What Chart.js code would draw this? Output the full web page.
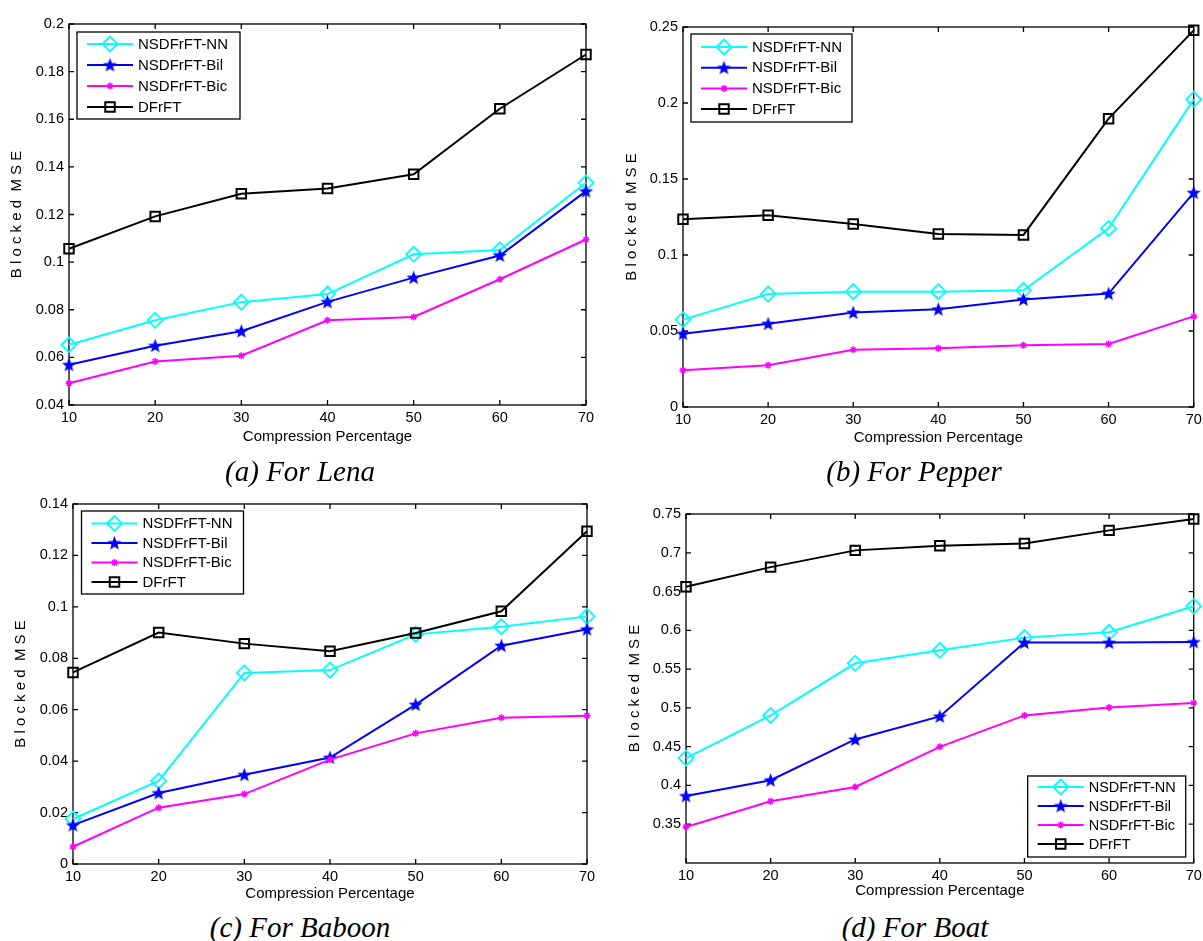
<!DOCTYPE html>
<html>
<head>
<meta charset="utf-8">
<script src="https://cdn.jsdelivr.net/npm/chart.js@4.4.1/dist/chart.umd.min.js"></script>
<style>
  html, body { margin: 0; padding: 0; background: #fff; }
  body { width: 1203px; height: 941px; position: relative; overflow: hidden; }
  .plot { position: absolute; }
  .caption {
    position: absolute; width: 400px; text-align: center; color: #000;
    font: italic 29px 'Liberation Serif', 'Times New Roman', serif; line-height: 1; white-space: nowrap;
  }
</style>
</head>
<body>
<div class="plot" id="boxLena"><canvas id="lena"></canvas></div>
<div class="plot" id="boxPepper"><canvas id="pepper"></canvas></div>
<div class="plot" id="boxBaboon"><canvas id="baboon"></canvas></div>
<div class="plot" id="boxBoat"><canvas id="boat"></canvas></div>

<div class="caption" style="left:100px;top:457px">(a) For Lena</div>
<div class="caption" style="left:714px;top:457px">(b) For Pepper</div>
<div class="caption" style="left:100px;top:913px">(c) For Baboon</div>
<div class="caption" style="left:715px;top:913px">(d) For Boat</div>

<script>
// x categories (compression %) and series names
const compression = [10, 20, 30, 40, 50, 60, 70];
const seriesNames = ['NSDFrFT-NN', 'NSDFrFT-Bil', 'NSDFrFT-Bic', 'DFrFT'];

// (a) Lena
const lenaNN    = [0.0653, 0.0756, 0.0832, 0.0866, 0.1033, 0.1051, 0.1333];
const lenaBil   = [0.0569, 0.0649, 0.0710, 0.0833, 0.0935, 0.1028, 0.1298];
const lenaBic   = [0.0491, 0.0583, 0.0607, 0.0756, 0.0770, 0.0928, 0.1095];
const lenaDFrFT = [0.1056, 0.1192, 0.1287, 0.1309, 0.1369, 0.1644, 0.1872];
const lenaTicks = [0.04, 0.06, 0.08, 0.1, 0.12, 0.14, 0.16, 0.18, 0.2];

// (b) Pepper
const pepperNN    = [0.0575, 0.0743, 0.0759, 0.0759, 0.0768, 0.1175, 0.2024];
const pepperBil   = [0.0482, 0.0548, 0.0621, 0.0643, 0.0708, 0.0746, 0.1410];
const pepperBic   = [0.0241, 0.0274, 0.0377, 0.0386, 0.0406, 0.0414, 0.0596];
const pepperDFrFT = [0.1235, 0.1261, 0.1204, 0.1138, 0.1132, 0.1897, 0.2478];
const pepperTicks = [0, 0.05, 0.1, 0.15, 0.2, 0.25];

// (c) Baboon
const baboonNN    = [0.0175, 0.0323, 0.0743, 0.0754, 0.0893, 0.0923, 0.0963];
const baboonBil   = [0.0151, 0.0276, 0.0347, 0.0414, 0.0620, 0.0849, 0.0913];
const baboonBic   = [0.0067, 0.0219, 0.0272, 0.0406, 0.0508, 0.0569, 0.0577];
const baboonDFrFT = [0.0745, 0.0900, 0.0857, 0.0827, 0.0898, 0.0983, 0.1294];
const baboonTicks = [0, 0.02, 0.04, 0.06, 0.08, 0.1, 0.12, 0.14];

// (d) Boat
const boatNN    = [0.4352, 0.4903, 0.5575, 0.5743, 0.5906, 0.5975, 0.6311];
const boatBil   = [0.3865, 0.4067, 0.4593, 0.4890, 0.5842, 0.5842, 0.5850];
const boatBic   = [0.3464, 0.3796, 0.3981, 0.4498, 0.4903, 0.5006, 0.5062];
const boatDFrFT = [0.6561, 0.6815, 0.7031, 0.7091, 0.7121, 0.7289, 0.7435];
const boatTicks = [0.35, 0.4, 0.45, 0.5, 0.55, 0.6, 0.65, 0.7, 0.75];

const FONT = "'Liberation Sans', Arial, Helvetica, sans-serif";
Chart.defaults.font.family = FONT;
Chart.defaults.color = '#000';

// filled pentagram marker (matlab 'p')
function pentagram(r, color) {
    const c = document.createElement('canvas');
    const s = Math.ceil(r * 2 + 2);
    c.width = c.height = s;
    const g = c.getContext('2d');
    g.translate(s / 2, s / 2 + 0.5);
    g.beginPath();
    for (let i = 0; i < 10; i++) {
        const rad = i % 2 ? r * 0.42 : r;
        const a = -Math.PI / 2 + i * Math.PI / 5;
        g.lineTo(rad * Math.cos(a), rad * Math.sin(a));
    }
    g.closePath();
    g.fillStyle = color;
    g.fill();
    return c;
}
const starImg = pentagram(7.5, '#0000ff');

// box + inward ticks on all four sides
const frame = {
    id: 'frame',
    beforeDatasetsDraw(chart) {
        const { ctx, chartArea: a, scales: { x, y } } = chart;
        ctx.save();
        ctx.strokeStyle = '#000';
        ctx.lineWidth = 1.3;
        ctx.strokeRect(a.left, a.top, a.width, a.height);
        ctx.beginPath();
        y.ticks.forEach((t) => {
            const py = y.getPixelForValue(t.value);
            ctx.moveTo(a.left, py); ctx.lineTo(a.left + 5, py);
            ctx.moveTo(a.right, py); ctx.lineTo(a.right - 5, py);
        });
        x.ticks.forEach((t, i) => {
            const px = x.getPixelForTick(i);
            ctx.moveTo(px, a.bottom); ctx.lineTo(px, a.bottom - 5);
            ctx.moveTo(px, a.top); ctx.lineTo(px, a.top + 5);
        });
        ctx.stroke();
        ctx.restore();
    },
};

// legend drawn inside the axes like matlab
const boxLegend = {
    id: 'boxLegend',
    afterDatasetsDraw(chart, args, o) {
        const { ctx, chartArea: a } = chart;
        const x = o.corner === 'br' ? a.right - o.dx - o.w : a.left + o.dx;
        const y = o.corner === 'br' ? a.bottom - o.dy - o.h : a.top + o.dy;
        ctx.save();
        ctx.fillStyle = '#fff';
        ctx.fillRect(x, y, o.w, o.h);
        ctx.strokeStyle = '#000';
        ctx.lineWidth = 1.3;
        ctx.strokeRect(x, y, o.w, o.h);
        chart.data.datasets.forEach((ds, i) => {
            const cy = y + o.first + i * o.gap;
            ctx.strokeStyle = ds.borderColor;
            ctx.lineWidth = ds.borderWidth;
            ctx.beginPath();
            ctx.moveTo(x + 10, cy);
            ctx.lineTo(x + 56, cy);
            ctx.stroke();
            ctx.fillStyle = ds.pointBackgroundColor;
            ctx.lineWidth = ds.pointBorderWidth;
            Chart.helpers.drawPoint(ctx, {
                pointStyle: ds.pointStyle, radius: ds.pointRadius, rotation: 0, borderWidth: ds.pointBorderWidth,
            }, x + 33, cy);
            ctx.fillStyle = '#000';
            ctx.font = o.fontSize + 'px ' + FONT;
            ctx.textAlign = 'left';
            ctx.textBaseline = 'middle';
            ctx.fillText(ds.label, x + 61, cy + 0.5);
        });
        ctx.restore();
    },
};

function makeSets(nn, bil, bic, dfrft) {
    return [
        { label: seriesNames[0], data: nn, borderColor: '#00ffff', borderWidth: 2, pointStyle: 'rectRot',
          pointRadius: 7.5, pointBorderWidth: 1.8, pointBackgroundColor: 'rgba(0,0,0,0)', order: 4 },
        { label: seriesNames[1], data: bil, borderColor: '#0000ff', borderWidth: 2, pointStyle: starImg,
          pointRadius: 7.5, pointBorderWidth: 0, pointBackgroundColor: '#0000ff', order: 3 },
        { label: seriesNames[2], data: bic, borderColor: '#ff00ff', borderWidth: 2, pointStyle: 'star',
          pointRadius: 3.5, pointBorderWidth: 1.5, pointBackgroundColor: 'rgba(0,0,0,0)', order: 2 },
        { label: seriesNames[3], data: dfrft, borderColor: '#000000', borderWidth: 2, pointStyle: 'rect',
          pointRadius: 6.7, pointBorderWidth: 2, pointBackgroundColor: 'rgba(0,0,0,0)', order: 1 },
    ].map((d) => Object.assign(d, { backgroundColor: 'rgba(0,0,0,0)', pointBorderColor: d.borderColor,
        tension: 0, fill: false, clip: false }));
}

// plot: axes rectangle in page pixels; tx/ty: centre of y / x axis titles
function drawPlot(id, boxId, sets, yMin, yMax, yTicks, plot, tx, ty, top, right, legend) {
    const left = Math.round(tx - 9);
    const bottom = Math.round(ty + 9);
    const box = document.getElementById(boxId);
    box.style.left = left + 'px';
    box.style.top = top + 'px';
    box.style.width = (right - left) + 'px';
    box.style.height = (bottom - top) + 'px';
    new Chart(document.getElementById(id), {
        type: 'line',
        data: { labels: compression, datasets: sets },
        plugins: [frame, boxLegend],
        options: {
            responsive: true,
            maintainAspectRatio: false,
            animation: false,
            events: [],
            layout: { padding: { top: plot.t - top, right: right - plot.r, left: 0, bottom: 0 } },
            plugins: { legend: { display: false }, tooltip: { enabled: false }, boxLegend: legend },
            scales: {
                x: {
                    type: 'category',
                    offset: false,
                    grid: { display: false, drawTicks: false },
                    border: { display: false },
                    ticks: { padding: 4, font: { size: 14.5 }, maxRotation: 0, autoSkip: false, color: '#000' },
                    title: { display: true, text: 'Compression Percentage', font: { size: 15 }, padding: 0, color: '#000' },
                    afterFit: (s) => { s.height = bottom - plot.b; s.paddingLeft = 0; s.paddingRight = 0; },
                },
                y: {
                    min: yMin,
                    max: yMax,
                    grid: { display: false, drawTicks: false },
                    border: { display: false },
                    afterBuildTicks: (s) => { s.ticks = yTicks.map((v) => ({ value: v })); },
                    ticks: { padding: 5, font: { size: 14.5 }, color: '#000', callback: (v) => String(v) },
                    title: { display: true, text: 'B l o c k e d  M S E', font: { size: 15 }, padding: 0, color: '#000' },
                    afterFit: (s) => { s.width = plot.l - left; s.paddingTop = 0; s.paddingBottom = 0; },
                },
            },
        },
    });
}

drawPlot('lena', 'boxLena', makeSets(lenaNN, lenaBil, lenaBic, lenaDFrFT), 0.04, 0.2, lenaTicks,
    { l: 69, t: 24, r: 586, b: 405 }, 17, 437, 0, 600,
    { corner: 'tl', dx: 8, dy: 8, w: 163, h: 87, first: 12, gap: 21, fontSize: 15 });

drawPlot('pepper', 'boxPepper', makeSets(pepperNN, pepperBil, pepperBic, pepperDFrFT), 0, 0.25, pepperTicks,
    { l: 683, t: 27, r: 1197, b: 407 }, 631.5, 437.5, 0, 1203,
    { corner: 'tl', dx: 8, dy: 7, w: 161, h: 88, first: 13, gap: 20.7, fontSize: 15 });

drawPlot('baboon', 'boxBaboon', makeSets(baboonNN, baboonBil, baboonBic, baboonDFrFT), 0, 0.14, baboonTicks,
    { l: 73, t: 504, r: 587, b: 864 }, 21, 894, 470, 600,
    { corner: 'tl', dx: 8.5, dy: 7, w: 162, h: 83, first: 12.5, gap: 19.5, fontSize: 15 });

drawPlot('boat', 'boxBoat', makeSets(boatNN, boatBil, boatBic, boatDFrFT), 0.3, 0.75, boatTicks,
    { l: 686, t: 514, r: 1195, b: 863 }, 635, 891, 470, 1203,
    { corner: 'br', dx: 8, dy: 6, w: 158, h: 81, first: 11, gap: 19, fontSize: 14.5 });
</script>
</body>
</html>
